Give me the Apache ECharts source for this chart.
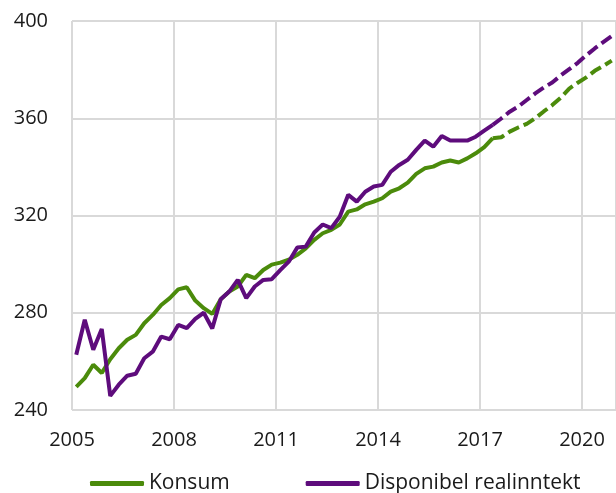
<!DOCTYPE html>
<html>
<head>
<meta charset="utf-8">
<script src="https://cdn.jsdelivr.net/npm/echarts@6/dist/echarts.min.js"></script>
<style>
  html, body { margin: 0; padding: 0; background: #fff; }
  #chart { width: 616px; height: 493px; }
</style>
</head>
<body>
<div id="chart"></div>
<script>
// quarterly values, 2005K1 onwards
const startYear = 2005
const seriesNames = ['Konsum', 'Disponibel realinntekt']

// actual, 2005K1 - 2017K2
const konsum = [
  249.5, 253.1, 258.6, 255.2, 260.9, 265.4, 268.9, 270.9, 275.7, 279.1,
  283.2, 286.0, 289.6, 290.5, 285.0, 281.9, 279.5, 285.6, 288.7, 290.8,
  295.6, 294.2, 297.6, 299.8, 300.6, 301.8, 303.8, 306.5, 310.0, 312.7,
  314.1, 316.3, 321.6, 322.5, 324.6, 325.7, 327.1, 329.8, 331.2, 333.5,
  337.1, 339.4, 340.1, 341.8, 342.6, 341.8, 343.5, 345.6, 348.1, 351.8
]
const inntekt = [
  262.7, 277.1, 264.8, 273.3, 245.8, 250.4, 254.1, 254.9, 261.3, 264.0,
  270.2, 269.1, 275.0, 273.7, 277.5, 280.0, 273.5, 285.6, 288.7, 293.5,
  286.0, 290.8, 293.5, 293.8, 297.5, 301.0, 306.8, 307.2, 313.0, 316.3,
  314.8, 319.5, 328.5, 325.7, 329.8, 331.9, 332.6, 338.0, 340.8, 342.9,
  347.0, 350.8, 348.3, 352.7, 350.8, 350.8, 350.8, 352.4, 354.9, 357.3
]

// projections, 2017K2 - 2020K4
const konsumAnslag = [
  351.8, 352.2, 354.5, 356.2, 357.7, 360.0, 362.8, 365.4, 368.5, 372.2,
  374.6, 376.8, 379.5, 381.5, 383.7
]
const inntektAnslag = [
  357.3, 359.9, 362.7, 364.8, 367.5, 370.2, 372.6, 374.7, 377.6, 380.2,
  382.8, 385.9, 388.7, 391.3, 393.8
]

const yTicks = [240, 280, 320, 360, 400]
const xTickStep = 3

const green = '#4b8b0b'
const purple = '#5e0c7c'
const font = '"Open Sans", "Noto Sans", sans-serif'

// mid-quarter position, in years from startYear
const toPoints = (values, firstIndex) =>
  values.map((v, i) => [(firstIndex + i) * 0.25 + 0.125, v])

const chart = echarts.init(document.getElementById('chart'))

const option = {
  backgroundColor: '#fff',
  animation: false,
  textStyle: { fontFamily: font },
  grid: {
    left: 72,
    right: -1,
    top: 21,
    bottom: 83
  },
  xAxis: {
    type: 'value',
    min: 0,
    max: 16,
    interval: xTickStep,
    axisLine: { show: false },
    axisTick: { show: false },
    axisLabel: {
      color: '#1a1a1a',
      fontSize: 20,
      margin: 20,
      showMaxLabel: false,
      formatter: v => String(startYear + v)
    },
    splitLine: {
      show: true,
      lineStyle: { color: '#d9d9d9', width: 2 }
    }
  },
  yAxis: {
    type: 'value',
    min: yTicks[0],
    max: yTicks[yTicks.length - 1],
    interval: yTicks[1] - yTicks[0],
    axisLine: { show: false },
    axisTick: { show: false },
    axisLabel: {
      color: '#1a1a1a',
      fontSize: 20,
      margin: 24
    },
    splitLine: {
      lineStyle: { color: '#d9d9d9', width: 2 }
    }
  },
  legend: {
    data: seriesNames,
    left: 85,
    top: 468,
    icon: 'roundRect',
    itemWidth: 54,
    itemHeight: 5,
    itemGap: 76,
    textStyle: {
      color: '#1a1a1a',
      fontSize: 21,
      fontFamily: font
    }
  },
  series: [
    {
      name: seriesNames[0],
      type: 'line',
      data: toPoints(konsum, 0),
      showSymbol: false,
      itemStyle: { color: green },
      lineStyle: { color: green, width: 4 }
    },
    {
      name: seriesNames[1],
      type: 'line',
      data: toPoints(inntekt, 0),
      showSymbol: false,
      itemStyle: { color: purple },
      lineStyle: { color: purple, width: 4 }
    },
    {
      name: 'Konsum anslag',
      type: 'line',
      data: toPoints(konsumAnslag, konsum.length - 1),
      showSymbol: false,
      itemStyle: { color: green },
      lineStyle: { color: green, width: 4, type: [12, 5] }
    },
    {
      name: 'Inntekt anslag',
      type: 'line',
      data: toPoints(inntektAnslag, inntekt.length - 1),
      showSymbol: false,
      itemStyle: { color: purple },
      lineStyle: { color: purple, width: 4, type: [12, 5] }
    }
  ]
}

chart.setOption(option)
</script>
</body>
</html>
